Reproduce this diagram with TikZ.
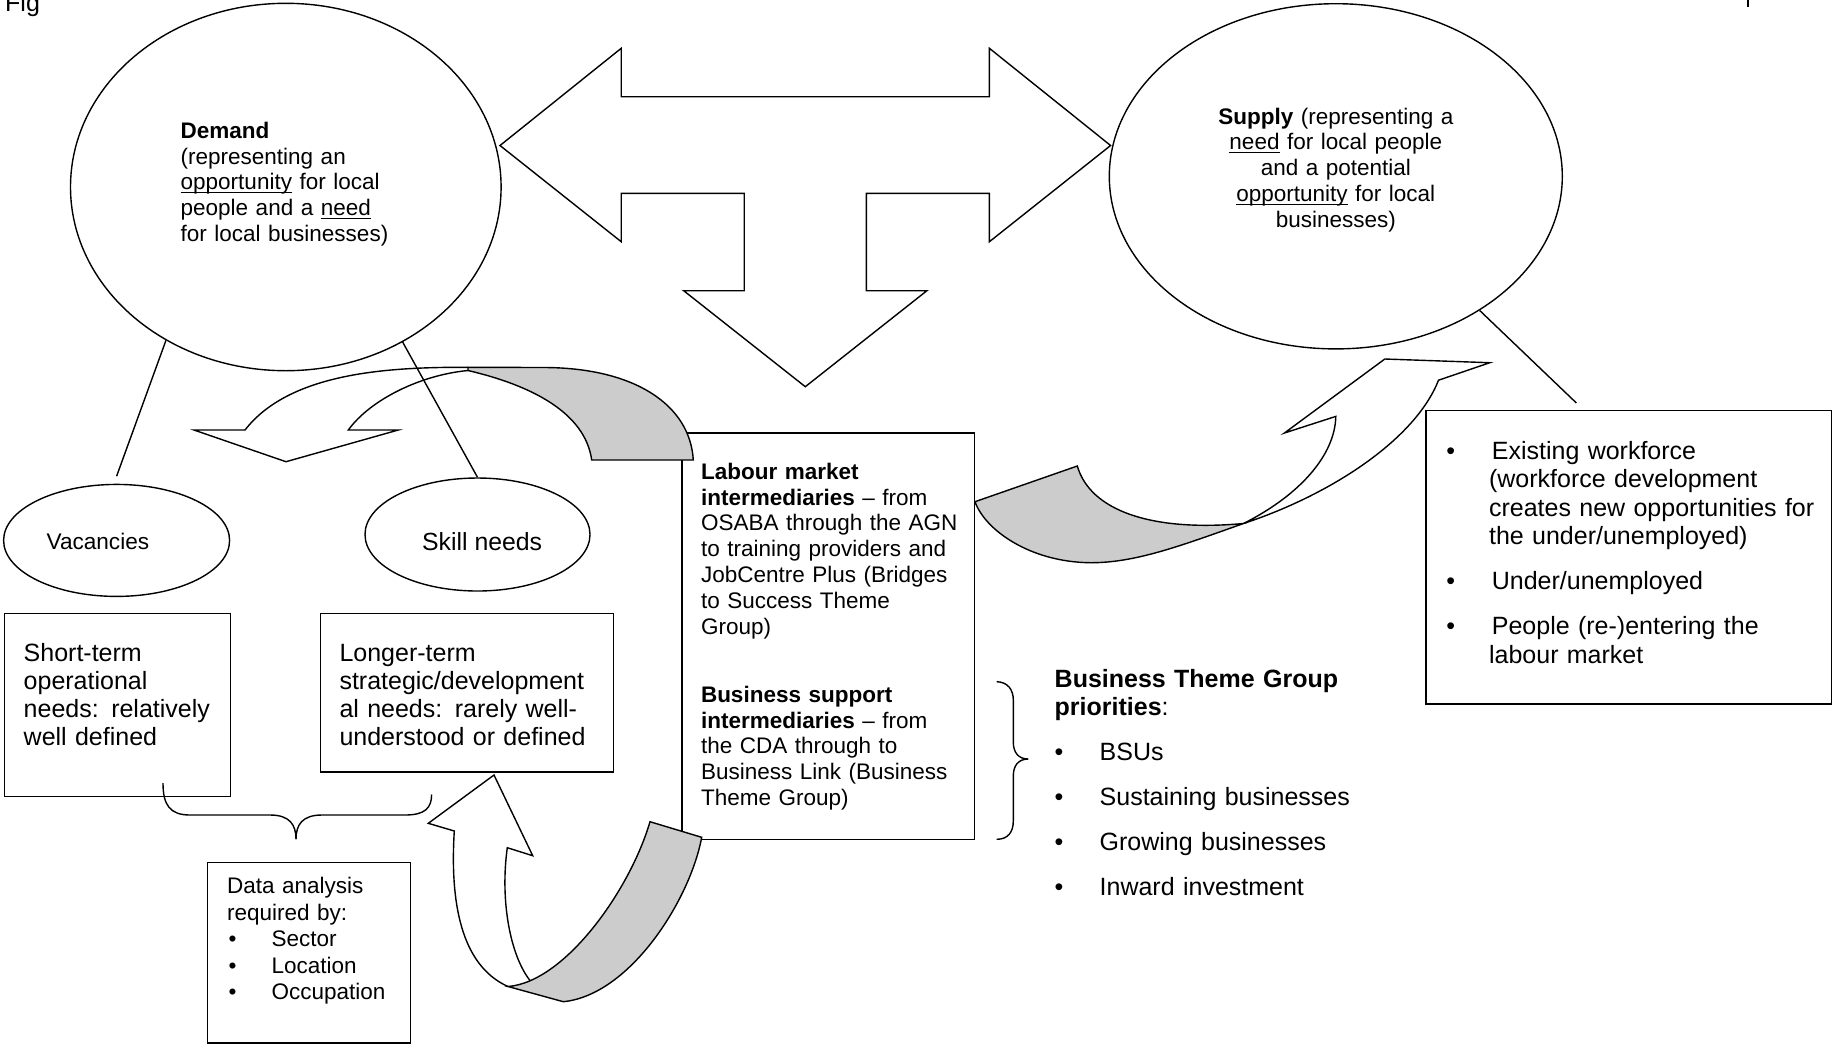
\documentclass[tikz,border=0pt]{standalone}
\usepackage{fontspec}
\setmainfont{Liberation Sans}
\usetikzlibrary{shapes.geometric}
\definecolor{bandgray}{gray}{0.8}
\newcommand\ul[1]{\underline{\smash{#1}}}
\newcommand\bul[1]{\makebox[#1][l]{\textbullet}}
\newcommand\fsz[2]{\fontsize{#1}{#2}\selectfont}
\begin{document}
\begin{tikzpicture}[x=0.5pt,y=-0.5pt,line width=0.7pt,
    ell/.style={draw,ellipse,inner sep=0pt},
    box/.style={draw,rectangle,inner sep=0pt,anchor=north west},
    txt/.style={inner sep=0pt,anchor=base west,align=left},
    band/.style={draw,fill=bandgray}]
      \useasboundingbox (0,0) rectangle (1832,1046);
      \node[txt,font=\fsz{12.5}{14}] (fig) at (4.5,11) {Fig};
      \draw[line width=1pt] (1747.7,0) -- (1747.7,7.3);
      \node[ell,minimum width=215.3pt,minimum height=183.7pt] (dem) at (285.8,187) {};
      \node[ell,minimum width=226.5pt,minimum height=172.6pt] (sup) at (1335.8,176.3) {};
      \draw (500,145.5) -- (621.2,48.3) -- (621.2,96.7) -- (989.4,96.7) -- (989.4,48.3) -- (1110.6,145.5) -- (989.4,241.7) -- (989.4,193.3) -- (866.4,193.3) -- (866.4,290.7) -- (926.9,290.7) -- (805.3,386.7) -- (683.7,290.7) -- (744.2,290.7) -- (744.2,193.3) -- (621.2,193.3) -- (621.2,241.7) -- cycle;
      \node[ell,minimum width=113pt,minimum height=56pt] (vac) at (116.6,540.4) {};
      \node[ell,minimum width=112.5pt,minimum height=56.5pt] (skl) at (477.5,534.5) {};
      \draw (dem.232.4) -- ([yshift=3.75pt]vac.north);
      \draw (dem.307.6) -- (skl.north);
      \node[box,minimum width=113pt,minimum height=91.5pt] (stb) at (3.7,612.5) {};
      \node[box,minimum width=146.5pt,minimum height=79.4pt] (ltb) at (320,612.5) {};
      \node[box,minimum width=101.7pt,minimum height=90.25pt] (dab) at (206.6,861.7) {};
      \node[box,minimum width=146.35pt,minimum height=203.35pt] (lmb) at (681.3,432.3) {};
      \node[box,minimum width=202.6pt,minimum height=146.7pt] (wfb) at (1425.4,410) {};
      \draw (sup.317) -- ([shift={(151,-7)}]wfb.north west);
      \draw (468,370.5) .. controls (420,375) and (370,400) .. (348.3,430) -- (398.3,430) -- (286,461.7) -- (194,430) -- (245,430) .. controls (290,372) and (390,367) .. (468,367.3);
      \draw[band] (468,367.3) -- (545,367.5) .. controls (635,368) and (690,405) .. (693.3,460) -- (591.7,460) .. controls (585,412) and (530,385) .. (468,370.5) -- cycle;
      \draw (1243.5,523.5) .. controls (1300,495) and (1335,455) .. (1335.8,416.4) -- (1284.4,433) -- (1384.8,359) -- (1489.8,362.7) -- (1438.5,380.2) .. controls (1415,440) and (1330,495) .. (1243.5,523.5);
      \draw[band] (1243.5,523.5) .. controls (1180,546) and (1135,563) .. (1090,562.7) .. controls (1030,562) and (985,530) .. (975,501.7) -- (1077.3,466) .. controls (1090,510) and (1150,532) .. (1243.5,523.5) -- cycle;
      \draw (530,980.5) .. controls (510,955) and (500,900) .. (507.3,847.7) -- (532.7,855.7) -- (494,775) -- (428.3,823.3) -- (454.3,831) .. controls (450,900) and (460,965) .. (508,986.5);
      \draw[band] (508,986.5) -- (563.3,1001.7) .. controls (630,995) and (690,900) .. (701.7,837.3) -- (650,821.7) .. controls (630,890) and (565,982) .. (508,986.5) -- cycle;
      \draw (163,783.2) .. controls (163,805) and (170,815) .. (190,815) -- (270,815) .. controls (290,815) and (296,825) .. (296,839.3) .. controls (296,825) and (302,815) .. (322,815) -- (405,815) .. controls (425,815) and (431.6,808) .. (431.6,794.5);
      \draw (996.7,681.7) .. controls (1008,682) and (1013.3,690) .. (1013.3,700) -- (1013.3,742) .. controls (1013.3,752) and (1018,759) .. (1028.3,759) .. controls (1018,759) and (1013.3,766) .. (1013.3,776) -- (1013.3,821) .. controls (1013.3,832) and (1008,839.3) .. (996.7,839.3);
      \node[txt,text width=110pt,font=\fsz{11.25}{12.9}] (demtxt) at (180,138.3) {\textbf{Demand}\\(representing an\\\ul{opportunity} for local\\people and a \ul{need}\\for local businesses)};
      \node[txt,anchor=base,align=center,text width=130pt,font=\fsz{11.25}{12.9}] (suptxt) at (1335.8,124) {\textbf{Supply} (representing a\\\ul{need} for local people\\and a potential\\\ul{opportunity} for local\\businesses)};
      \node[txt,font=\fsz{11.3}{13}] (vactxt) at (45.9,549) {Vacancies};
      \node[txt,font=\fsz{12.4}{14}] (skltxt) at (421.5,550) {Skill needs};
      \node[txt,text width=105pt,font=\fsz{12.5}{14}] (stbtxt) at (23,661.8) {Short-term\\operational\\needs: relatively\\well defined};
      \node[txt,text width=135pt,font=\fsz{12.5}{14}] (ltbtxt) at (338.8,661.8) {Longer-term\\strategic/development\\al needs: rarely well-\\understood or defined};
      \node[txt,text width=95pt,font=\fsz{11.25}{13.3}] (dabtxt) at (226.4,893.5) {Data analysis\\required by:\\\hspace*{0.8pt}\bul{21.45pt}Sector\\\hspace*{0.8pt}\bul{21.45pt}Location\\\hspace*{0.8pt}\bul{21.45pt}Occupation};
      \node[txt,text width=140pt,font=\fsz{11.25}{12.9}] (lmtxt) at (700.3,479.3) {\textbf{Labour market}\\\textbf{intermediaries} – from\\OSABA through the AGN\\to training providers and\\JobCentre Plus (Bridges\\to Success Theme\\Group)};
      \node[txt,text width=140pt,font=\fsz{11.25}{12.9}] (bstxt) at (700.3,702.3) {\textbf{Business support}\\\textbf{intermediaries} – from\\the CDA through to\\Business Link (Business\\Theme Group)};
      \node[txt,text width=195pt,font=\fsz{12.5}{14.25}] (wfbtxt) at (1445.6,459) {\bul{22.8pt}Existing workforce\\\hspace*{21.4pt}(workforce development\\\hspace*{21.4pt}creates new opportunities for\\\hspace*{21.4pt}the under/unemployed)\\[8.25pt]\bul{22.8pt}Under/unemployed\\[8.25pt]\bul{22.8pt}People (re-)entering the\\\hspace*{21.4pt}labour market};
      \node[txt,text width=160pt,font=\fsz{12.5}{14.25}] (btgtxt) at (1054,687) {\textbf{Business Theme Group}\\\textbf{priorities}:\\[8pt]\bul{22.5pt}BSUs\\[8.25pt]\bul{22.5pt}Sustaining businesses\\[8.25pt]\bul{22.5pt}Growing businesses\\[8.25pt]\bul{22.5pt}Inward investment};
    \end{tikzpicture}
\end{document}
